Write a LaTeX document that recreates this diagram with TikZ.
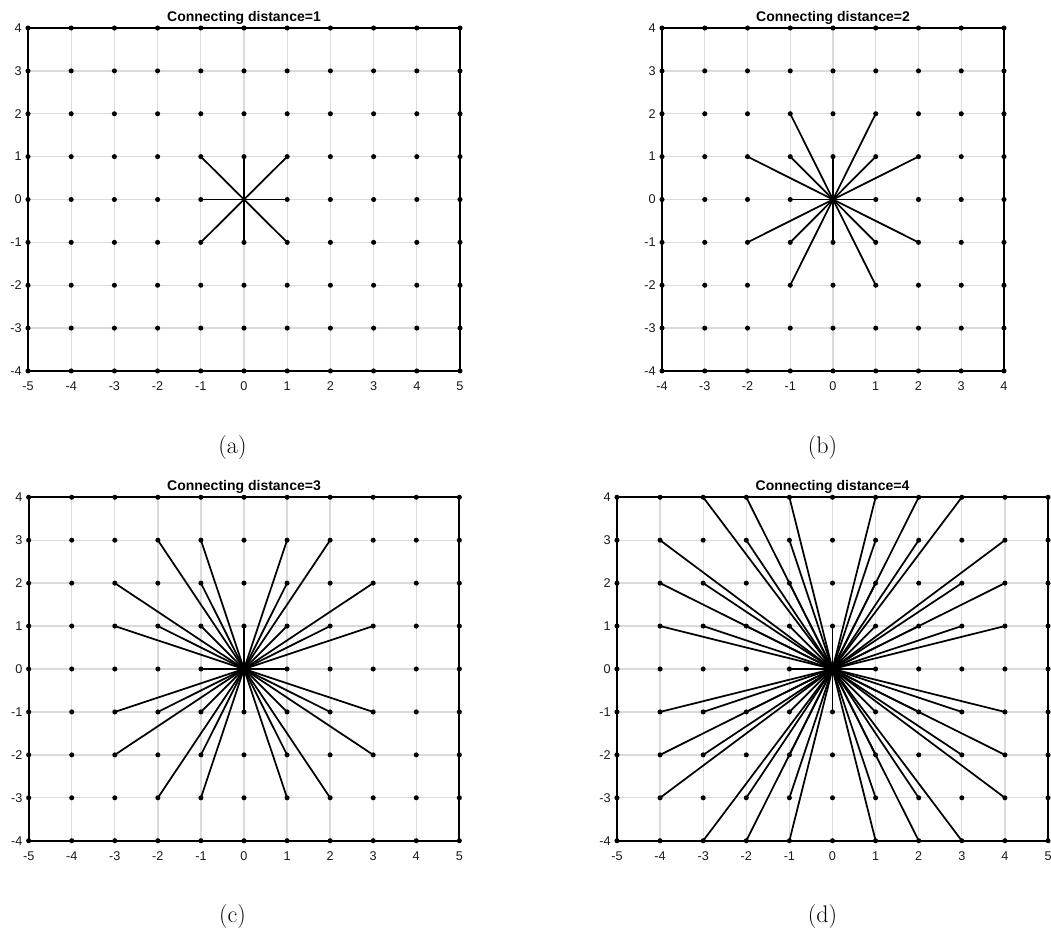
\documentclass[tikz,border=0pt]{standalone}
\usepackage{fontspec}
\usepackage{xcolor}
\usepackage{tikz}
\newfontfamily\plotfont{Liberation Sans}

\begin{document}
\begin{tikzpicture}[
    x=0.75pt,
    y=0.75pt,
    gridline/.style={
        draw=black!14,
        line width=1pt
    },
    frame/.style={
        draw=black,
        line width=1.6pt
    },
    link/.style={
        draw=black,
        line width=1.3pt
    },
    gridpoint/.style={
        fill=black
    },
    ticklabel/.style={
        inner sep=0pt,
        text=black!90,
        font=\plotfont\fontsize{9.5}{11}\selectfont
    },
    plottitle/.style={
        inner sep=0pt,
        font=\plotfont\bfseries\fontsize{10.5}{12}\selectfont
    },
    sublabel/.style={
        inner sep=0pt,
        font=\fontsize{18}{21}\selectfont
    }
]

\useasboundingbox (0,0) rectangle (1051,933);

% ============================================================
% FOUR PANELS: label / centre / x range / units / distance
% ============================================================

\foreach \lab/\cx/\cy/\xlo/\xhi/\ux/\uy/\dist/\sx in {%
    a/244/733.5/-5/5/32.4pt/32.15pt/1/232.5,%
    b/833/733.5/-4/4/32.06pt/32.15pt/2/822.5,%
    c/244/264/-5/5/32.3pt/32.2pt/3/232.5,%
    d/832.5/264/-5/5/32.33pt/32.2pt/4/822.5%
}{

\begin{scope}[shift={(\cx,\cy)}, x=\ux, y=\uy, name prefix=\lab-]

% grid points
\foreach \i in {\xlo,...,\xhi}{
    \foreach \j in {-4,...,4}{
        \coordinate (p\i_\j) at (\i,\j);
    }
}

% grid lines
\foreach \i in {\xlo,...,\xhi}{
    \draw[gridline] (p\i_-4) -- (p\i_4);
}
\foreach \j in {-4,...,4}{
    \draw[gridline] (p\xlo_\j) -- (p\xhi_\j);
}

% links from the centre
\pgfmathtruncatemacro\lo{-\dist}
\foreach \i in {\lo,...,\dist}{
    \foreach \j in {\lo,...,\dist}{
        \pgfmathtruncatemacro\reach{max(abs(\i),abs(\j))}
        \pgfmathtruncatemacro\onaxis{(\i==0)||(\j==0)||(abs(\i)==abs(\j))}
        \ifnum\reach=1
            \draw[link] (p0_0) -- (p\i_\j);
        \fi
        \ifnum\reach>1
            \ifnum\onaxis=0
                \draw[link] (p0_0) -- (p\i_\j);
            \fi
        \fi
    }
}

% axes box
\draw[frame] (p\xlo_-4) rectangle (p\xhi_4);

% dots
\foreach \i in {\xlo,...,\xhi}{
    \foreach \j in {-4,...,4}{
        \fill[gridpoint] (p\i_\j) circle[radius=1.9pt];
    }
}

% tick labels
\foreach \i in {\xlo,...,\xhi}{
    \node[ticklabel, anchor=north] (xt\i) at ([yshift=-8pt]p\i_-4) {\i};
}
\foreach \j in {-4,...,4}{
    \node[ticklabel, anchor=east] (yt\j) at ([xshift=-4.5pt]p\xlo_\j) {\j};
}

% title
\node[plottitle, anchor=base] (title) at ([yshift=4.9pt]p0_4)
{Connecting distance=\dist};

\end{scope}

% subfigure label
\node[sublabel] (\lab-sub) at (\sx,\cy-248) {(\lab)};
}

\end{tikzpicture}
\end{document}
